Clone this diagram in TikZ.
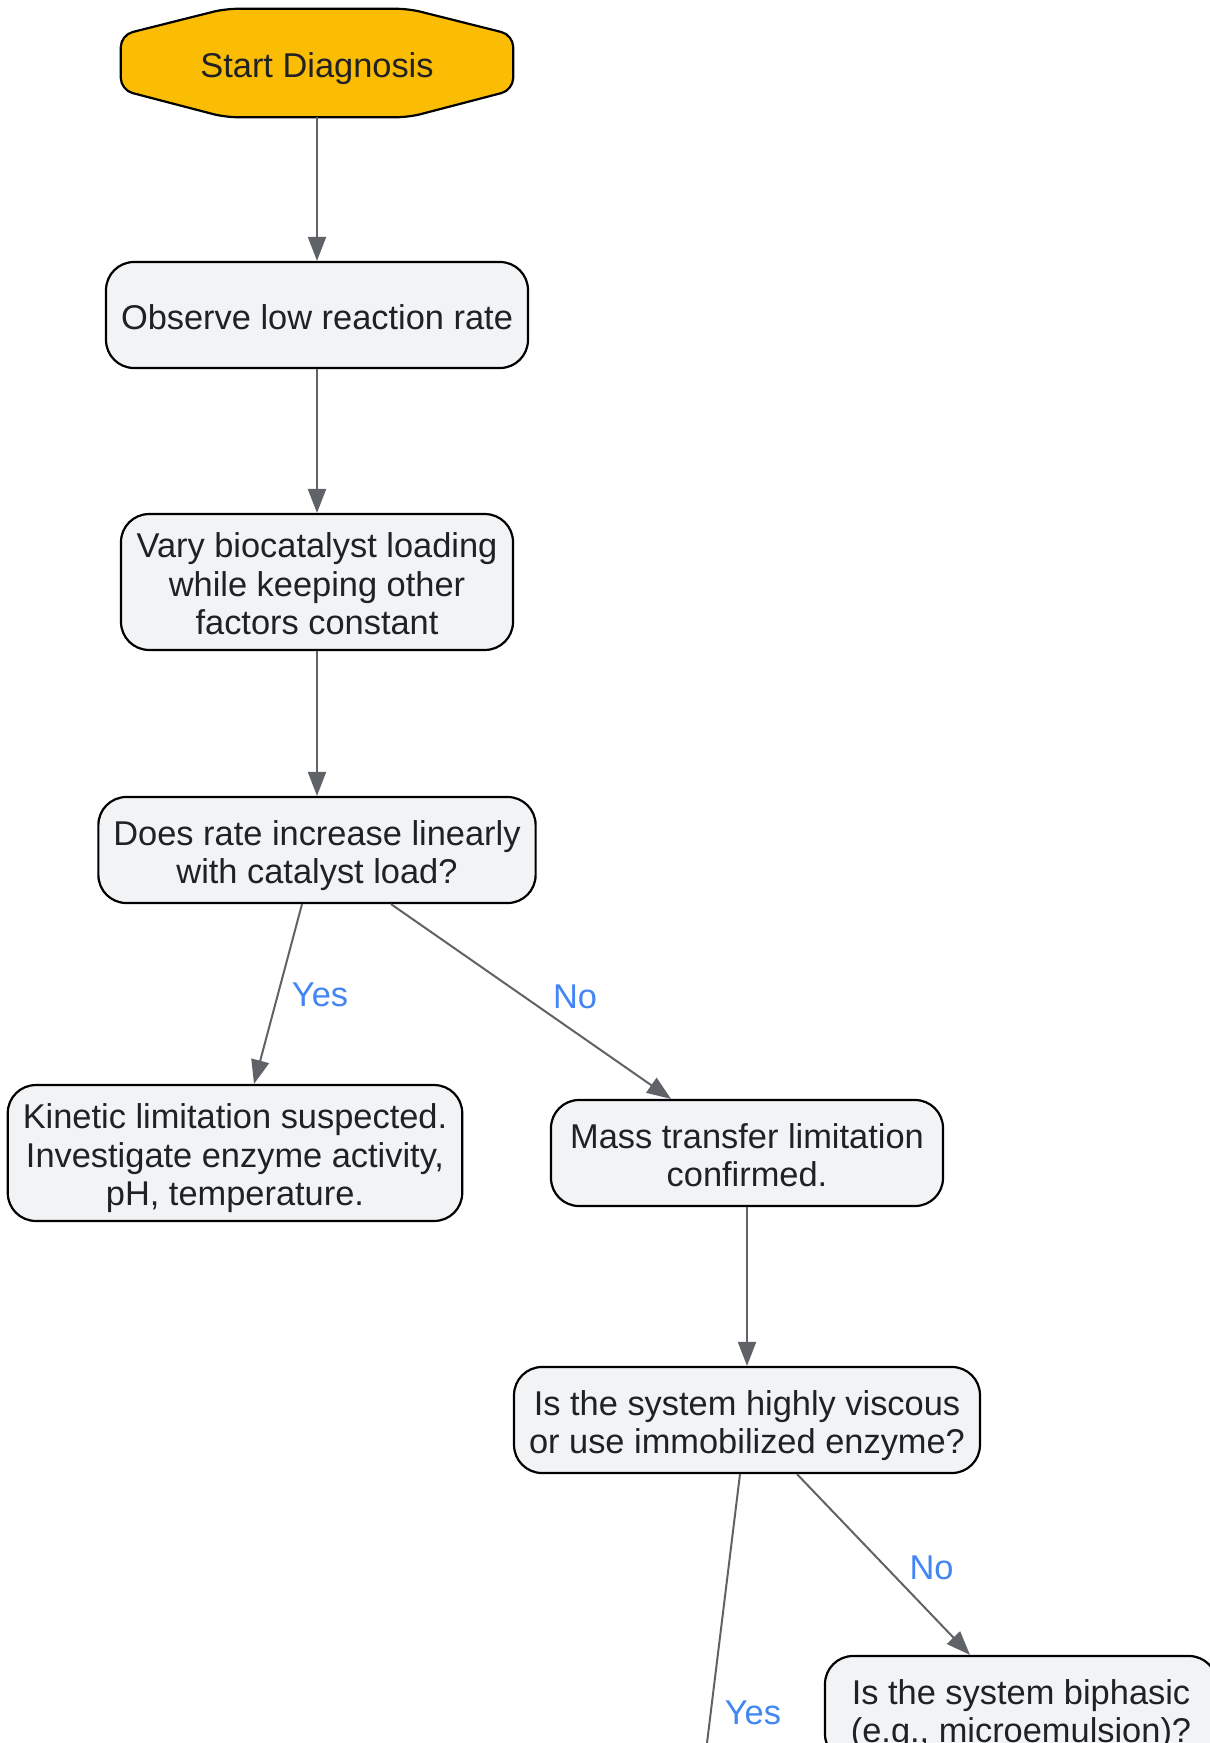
\documentclass[tikz,border=0pt]{standalone}
\usepackage{fontspec}
\setmainfont{Liberation Sans}
\usetikzlibrary{arrows.meta,backgrounds}

\definecolor{stepfill}{HTML}{F1F3F4}
\definecolor{startfill}{HTML}{FBBC04}
\definecolor{edgegray}{HTML}{5F6368}
\definecolor{labelblue}{HTML}{4285F4}
\definecolor{inkdark}{HTML}{202124}

% struts for first and last line of a box text
\newcommand{\topstrut}{\rule{0pt}{35.5pt}}
\newcommand{\botstrut}{\rule[-7.2pt]{0pt}{7.2pt}}

\begin{document}
\begin{tikzpicture}[x=1pt,y=-1pt,
  box/.style={draw=black,line width=2.2pt,fill=stepfill,rounded corners=28pt,
    align=center,inner xsep=15pt,inner ysep=8.3pt,minimum height=106pt,
    minimum width=392pt,text=inkdark,font=\fontsize{34.4}{38.3}\selectfont},
  flow/.style={draw=edgegray,line width=2pt,-{Triangle[length=24pt,width=18pt]}},
  lbl/.style={text=labelblue,font=\fontsize{34.4}{38.3}\selectfont}]
  \useasboundingbox (0,0) rectangle (1210,1743);
  \clip (0,0) rectangle (1210,1743);

  % nodes
  \node[text=inkdark,font=\fontsize{34.4}{38.3}\selectfont,minimum width=392pt,minimum height=108pt] (start) at (317,63) {\topstrut Start Diagnosis\botstrut};
  \node[box] (observe) at (317,315) {\topstrut Observe low reaction rate\botstrut};
  \node[box] (vary) at (317,582) {\topstrut Vary biocatalyst loading\\while keeping other\\factors constant\botstrut};
  \node[box] (does) at (317,850) {\topstrut Does rate increase linearly\\with catalyst load?\botstrut};
  \node[box] (kinetic) at (235,1153) {\topstrut Kinetic limitation suspected.\\Investigate enzyme activity,\\pH, temperature.\botstrut};
  \node[box] (mass) at (747,1153) {\topstrut Mass transfer limitation\\confirmed.\botstrut};
  \node[box] (viscous) at (747,1420) {\topstrut Is the system highly viscous\\or use immobilized enzyme?\botstrut};
  \node[box] (biphasic) at (1021,1709) {\topstrut Is the system biphasic\\(e.g., microemulsion)?\botstrut};
  \coordinate (yesend) at (700,1800);

  % start shape
  \begin{scope}[on background layer]
    \draw[fill=startfill,draw=black,line width=2.2pt,rounded corners=12pt]
      ([xshift=-92pt]start.north) -- ([xshift=92pt]start.north)
      -- ([yshift=28pt]start.east) -- ([yshift=-27pt]start.east)
      -- ([xshift=92pt]start.south) -- ([xshift=-92pt]start.south)
      -- ([yshift=-27pt]start.west) -- ([yshift=28pt]start.west) -- cycle;
  \end{scope}

  % connectors
  \draw[flow] (start.south) -- (observe.north);
  \draw[flow] (observe.south) -- (vary.north);
  \draw[flow] (vary.south) -- (does.north);
  \draw[flow] ([xshift=-15pt]does.south) -- node[lbl,midway,xshift=42pt,yshift=-1pt] {Yes} ([xshift=19pt]kinetic.north);
  \draw[flow] ([xshift=74pt]does.south) -- node[lbl,midway,xshift=44pt,yshift=5pt] {No} ([xshift=-76pt]mass.north);
  \draw[flow] (mass.south) -- (viscous.north);
  \draw[flow] ([xshift=-7pt]viscous.south) -- node[lbl,pos=0.726,xshift=42pt,yshift=-2pt] {Yes} (yesend);
  \draw[flow] ([xshift=50pt]viscous.south) -- node[lbl,midway,xshift=48pt,yshift=-3pt] {No} ([xshift=-51pt]biphasic.north);
\end{tikzpicture}
\end{document}
